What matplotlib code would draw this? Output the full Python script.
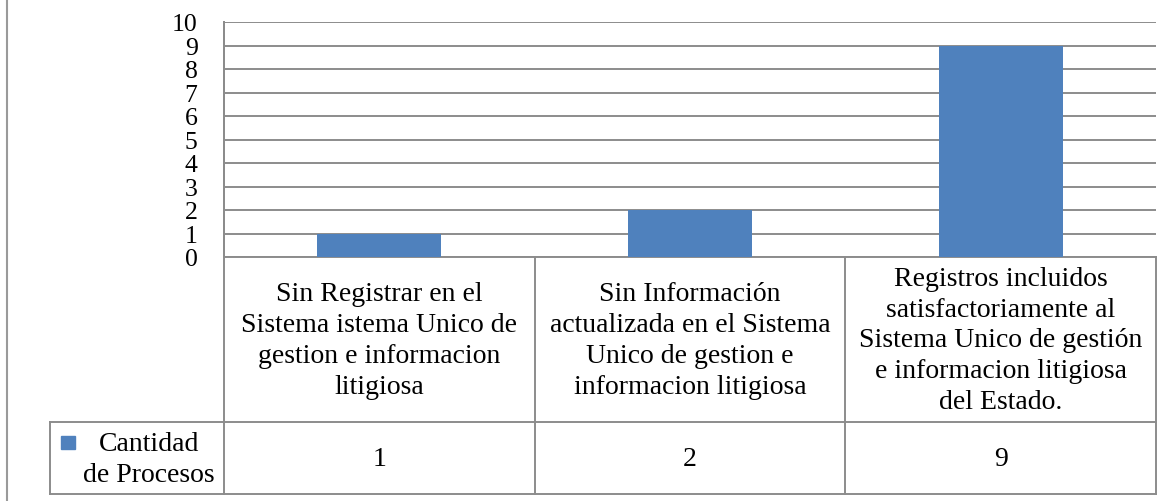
import matplotlib.pyplot as plt
from matplotlib.transforms import blended_transform_factory
from matplotlib.patches import Rectangle
from matplotlib.lines import Line2D

categorias = [
    "Sin Registrar en el\nSistema istema Unico de\ngestion e informacion\nlitigiosa",
    "Sin Información\nactualizada en el Sistema\nUnico de gestion e\ninformacion litigiosa",
    "Registros incluidos\nsatisfactoriamente al\nSistema Unico de gestión\ne informacion litigiosa\ndel Estado.",
]
serie_nombre = "Cantidad\nde Procesos"
valores = [1, 2, 9]
y_ticks = list(range(0, 11))

BLUE = "#4F81BD"
GRID = "#8C8C8C"
FONT = "Liberation Serif"
FS_TICK = 18.5
FS = 20

W, H = 1170, 502
fig = plt.figure(figsize=(W / 100, H / 100), dpi=100)

# plot area in pixels
left, right, top, bottom = 224, 1156, 23, 258
ax = fig.add_axes([left / W, 1 - bottom / H, (right - left) / W, (bottom - top) / H])

x = list(range(len(valores)))
ax.bar(x, valores, width=0.4, color=BLUE, zorder=3)
ax.set_xlim(-0.5, len(valores) - 0.5)
ax.set_ylim(0, 10)
ax.set_yticks(y_ticks)
ax.set_yticklabels([str(t) for t in y_ticks], fontfamily=FONT, fontsize=FS_TICK)
ax.tick_params(axis="y", length=0, pad=19)
ax.set_xticks([])
ax.grid(axis="y", color=GRID, linewidth=1.4, zorder=1)
for s in ["top", "right", "bottom"]:
    ax.spines[s].set_visible(False)
ax.spines["left"].set_color(GRID)
ax.spines["left"].set_linewidth(1.4)

# data table below the axis
ph = bottom - top
def yfrac(py):
    return (bottom - py) / ph

row1_bot = yfrac(423)
row2_bot = yfrac(495)
leg_left = (50 - left) / (right - left)

tr = blended_transform_factory(ax.transData, ax.transAxes)
tra = ax.transAxes
lkw = dict(color=GRID, linewidth=1.4, clip_on=False)

# horizontal lines
ax.add_line(Line2D([-0.5, len(valores) - 0.5], [0, 0], transform=tr, **lkw))
ax.add_line(Line2D([leg_left, 1], [row1_bot, row1_bot], transform=tra, **lkw))
ax.add_line(Line2D([leg_left, 1], [row2_bot, row2_bot], transform=tra, **lkw))
# vertical lines
for i in range(len(valores) + 1):
    ax.add_line(Line2D([i - 0.5, i - 0.5], [0 if i else 1, row2_bot], transform=tr, **lkw))
ax.add_line(Line2D([leg_left, leg_left], [row1_bot, row2_bot], transform=tra, **lkw))

for i, (cat, v) in enumerate(zip(categorias, valores)):
    ax.text(i, yfrac(341), cat, transform=tr, ha="center", va="center",
            fontfamily=FONT, fontsize=FS, linespacing=1.3, clip_on=False)
    ax.text(i, yfrac(460), str(v), transform=tr, ha="center", va="center",
            fontfamily=FONT, fontsize=FS, clip_on=False)

# legend cell
ax.add_patch(Rectangle(((61 - left) / (right - left), yfrac(450)), 14 / (right - left), 13 / ph,
                       transform=tra, color=BLUE, clip_on=False))
ax.text((149 - left) / (right - left), yfrac(460), serie_nombre, transform=tra,
        ha="center", va="center", multialignment="center", fontfamily=FONT, fontsize=FS,
        linespacing=1.35, clip_on=False)

# outer frame line on the left
fig.add_artist(Line2D([7 / W, 7 / W], [0, 1], color="#9A9A9A", linewidth=1.5))

fig.savefig("out.png", dpi=100)
